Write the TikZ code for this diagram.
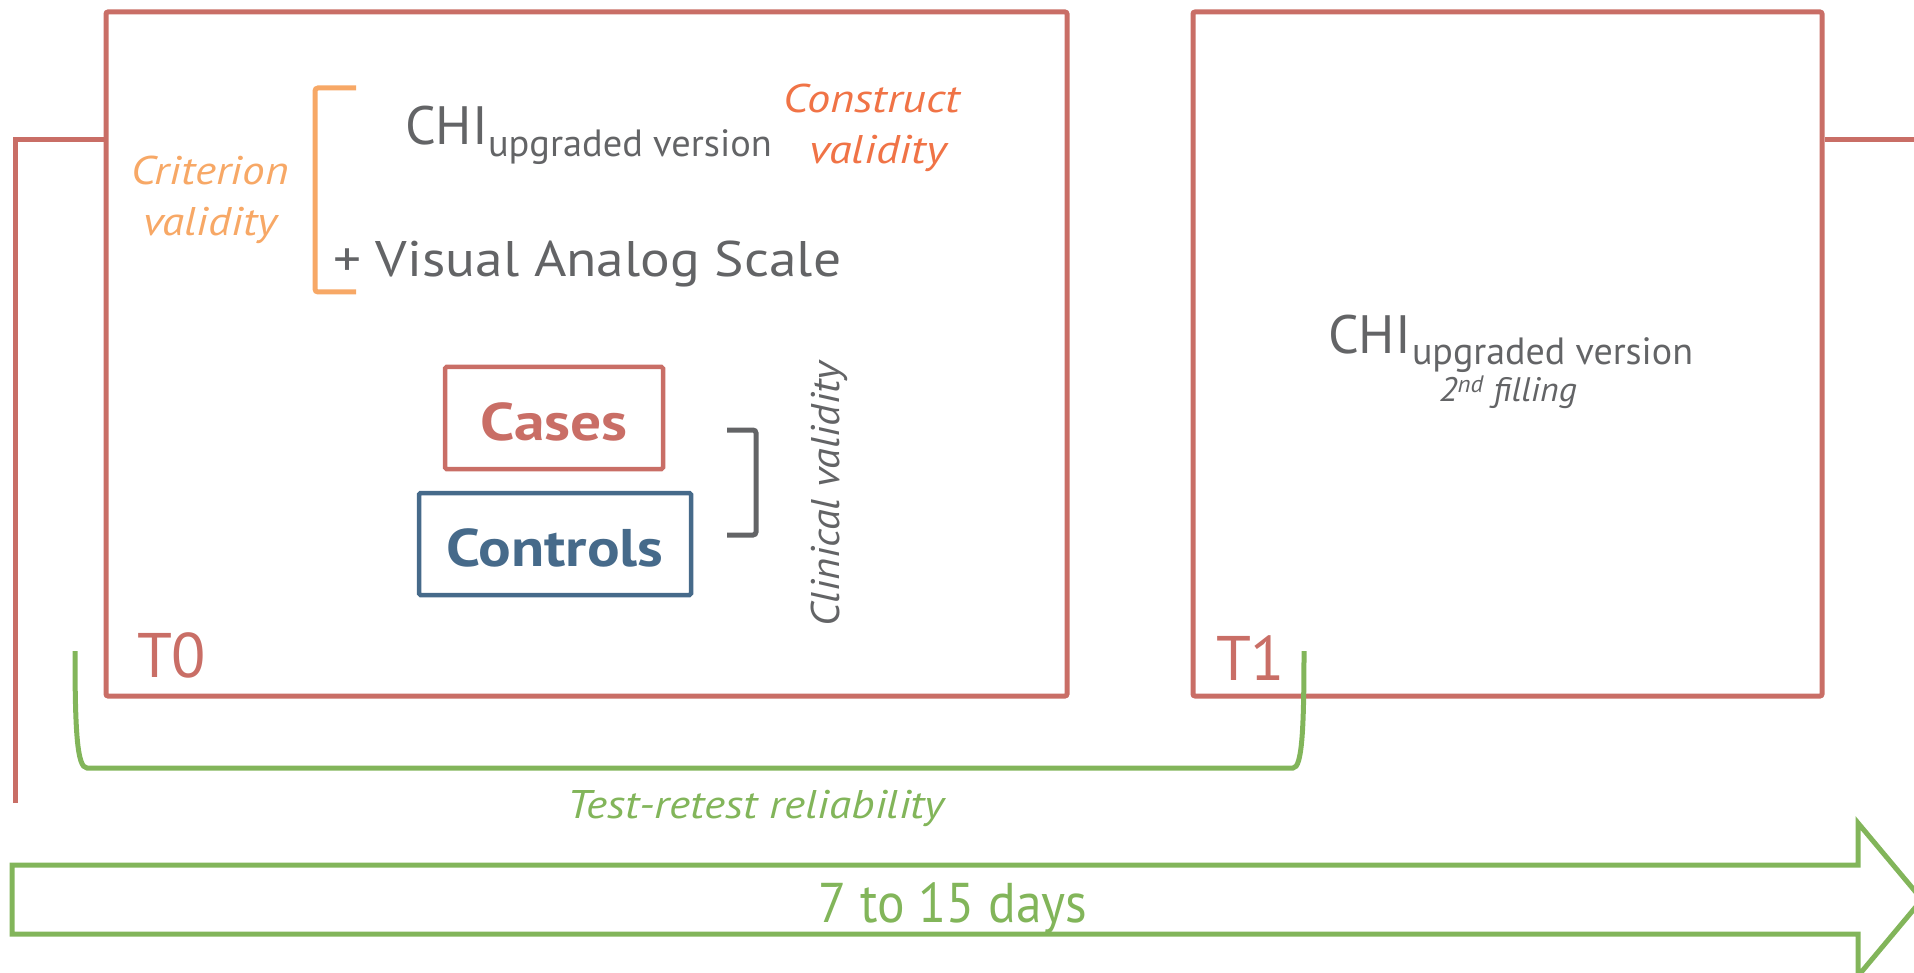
\documentclass[tikz,border=0pt]{standalone}
\usepackage{fontspec}
\setmainfont{PT Sans}
\definecolor{boxred}{RGB}{201,110,102}
\definecolor{critorange}{RGB}{247,168,102}
\definecolor{consorange}{RGB}{240,115,70}
\definecolor{txtgray}{RGB}{99,100,102}
\definecolor{ctrlblue}{RGB}{70,106,138}
\definecolor{arrgreen}{RGB}{130,181,90}
\newcommand{\fsz}[3]{\fontsize{#1}{#1}\selectfont\addfontfeatures{FakeStretch=#2}#3}
\begin{document}
\begin{tikzpicture}[x=1pt,y=-1pt,
  every node/.style={inner sep=0pt,outer sep=0pt},
  redframe/.style={draw=boxred,line width=5pt,rounded corners=2pt},
  caseframe/.style={draw=boxred,line width=4.5pt,rounded corners=1.5pt},
  ctrlframe/.style={draw=ctrlblue,line width=4.5pt,rounded corners=1.5pt},
  redline/.style={draw=boxred,line width=5pt},
  greenline/.style={draw=arrgreen,line width=5pt},
  graytext/.style={text=txtgray},
]
\useasboundingbox (0,0) rectangle (1914,973);

% frames
\node[redframe,minimum width=961pt,minimum height=684pt] (t0) at (586.5,354) {};
\node[redframe,minimum width=629pt,minimum height=684pt] (t1) at (1507.5,354) {};

% side connectors
\coordinate (lb) at (15,803);
\coordinate (lc) at (15,140);
\coordinate (rs) at (1914,140);
\draw[redline] (lb) -- (lc) -- (t0.west |- lc);
\draw[redline] ([xshift=3pt]t1.east |- rs) -- (rs);

% T labels
\node[anchor=base west,text=boxred,font=\fontsize{63}{70}\selectfont] (lt0) at (137,677) {T0};
\node[anchor=base west,text=boxred,font=\fontsize{63}{70}\selectfont] (lt1) at (1216,680) {T1};

% criterion bracket and label
\coordinate (ob1) at (356,88);
\coordinate (ob2) at (356,292);
\draw[draw=critorange,line width=5pt,rounded corners=3pt] (ob1) -- (315,88) -- (315,292) -- (ob2);
\node[anchor=base,text=critorange,font=\itshape\fsz{40}{1.13}{}] (crit1) at (210,185) {Criterion};
\node[anchor=base,text=critorange,font=\itshape\fsz{40}{1.13}{}] (crit2) at (210,236) {validity};

% CHI T0
\node[anchor=base west,graytext,font=\fontsize{54}{60}\selectfont] (chi0) at (405,145) {CHI};
\node[anchor=base west,graytext,font=\fsz{38}{1.01}{}] (sub0) at (488,157) {upgraded version};
\node[anchor=base west,graytext,font=\fsz{50}{1.11}{}] (vas) at (333,277) {+ Visual Analog Scale};

% construct validity
\node[anchor=base,text=consorange,font=\itshape\fsz{40}{1.16}{}] (cons1) at (872,113) {Construct};
\node[anchor=base,text=consorange,font=\itshape\fsz{40}{1.16}{}] (cons2) at (878,164) {validity};

% cases/controls
\node[caseframe,minimum width=218pt,minimum height=102pt] (cases) at (554,418) {};
\node[text=boxred,font=\bfseries\fsz{53}{1.16}{},anchor=base] at (554,440) {Cases};
\node[ctrlframe,minimum width=272pt,minimum height=102pt] (ctrls) at (555,544) {};
\node[text=ctrlblue,font=\bfseries\fsz{53}{1.15}{},anchor=base] at (555,566) {Controls};

% clinical bracket
\coordinate (gb1) at (727,430);
\coordinate (gb2) at (727,535);
\draw[draw=txtgray,line width=5pt,rounded corners=3pt] (gb1) -- (756,430) -- (756,535) -- (gb2);
\node[anchor=base,rotate=90,graytext,font=\itshape\fsz{40}{1.06}{}] (clin) at (839,494) {Clinical validity};

% CHI T1
\node[anchor=base west,graytext,font=\fontsize{54}{60}\selectfont] (chi1) at (1328,354) {CHI};
\node[anchor=base west,graytext,font=\fsz{38}{1.0}{}] (sub1) at (1412,365) {upgraded version};
\node[anchor=base west,graytext,font=\itshape\fsz{34}{1.05}{}] (fill) at (1439,402) {2\textsuperscript{nd} filling};

% test-retest bracket
\coordinate (gl) at (75,651);
\coordinate (gr) at (1304,651);
\draw[greenline,line cap=butt] (gl) .. controls (75,730) and (77,768) .. (87,768) -- (1293,768) .. controls (1302,768) and (1304,730) .. (gr);
\node[anchor=base,text=arrgreen,font=\itshape\fsz{40}{1.13}{}] (trr) at (756,818) {Test-retest reliability};

% time arrow
\draw[greenline,line join=miter] (12,865) -- (1858,865) -- (1858,823) -- (1922,899.5) -- (1858,976) -- (1858,934) -- (12,934) -- cycle;
\node[anchor=base,text=arrgreen,font=\fsz{56}{0.92}{}] (days) at (953,922) {7 to 15 days};
\end{tikzpicture}
\end{document}
